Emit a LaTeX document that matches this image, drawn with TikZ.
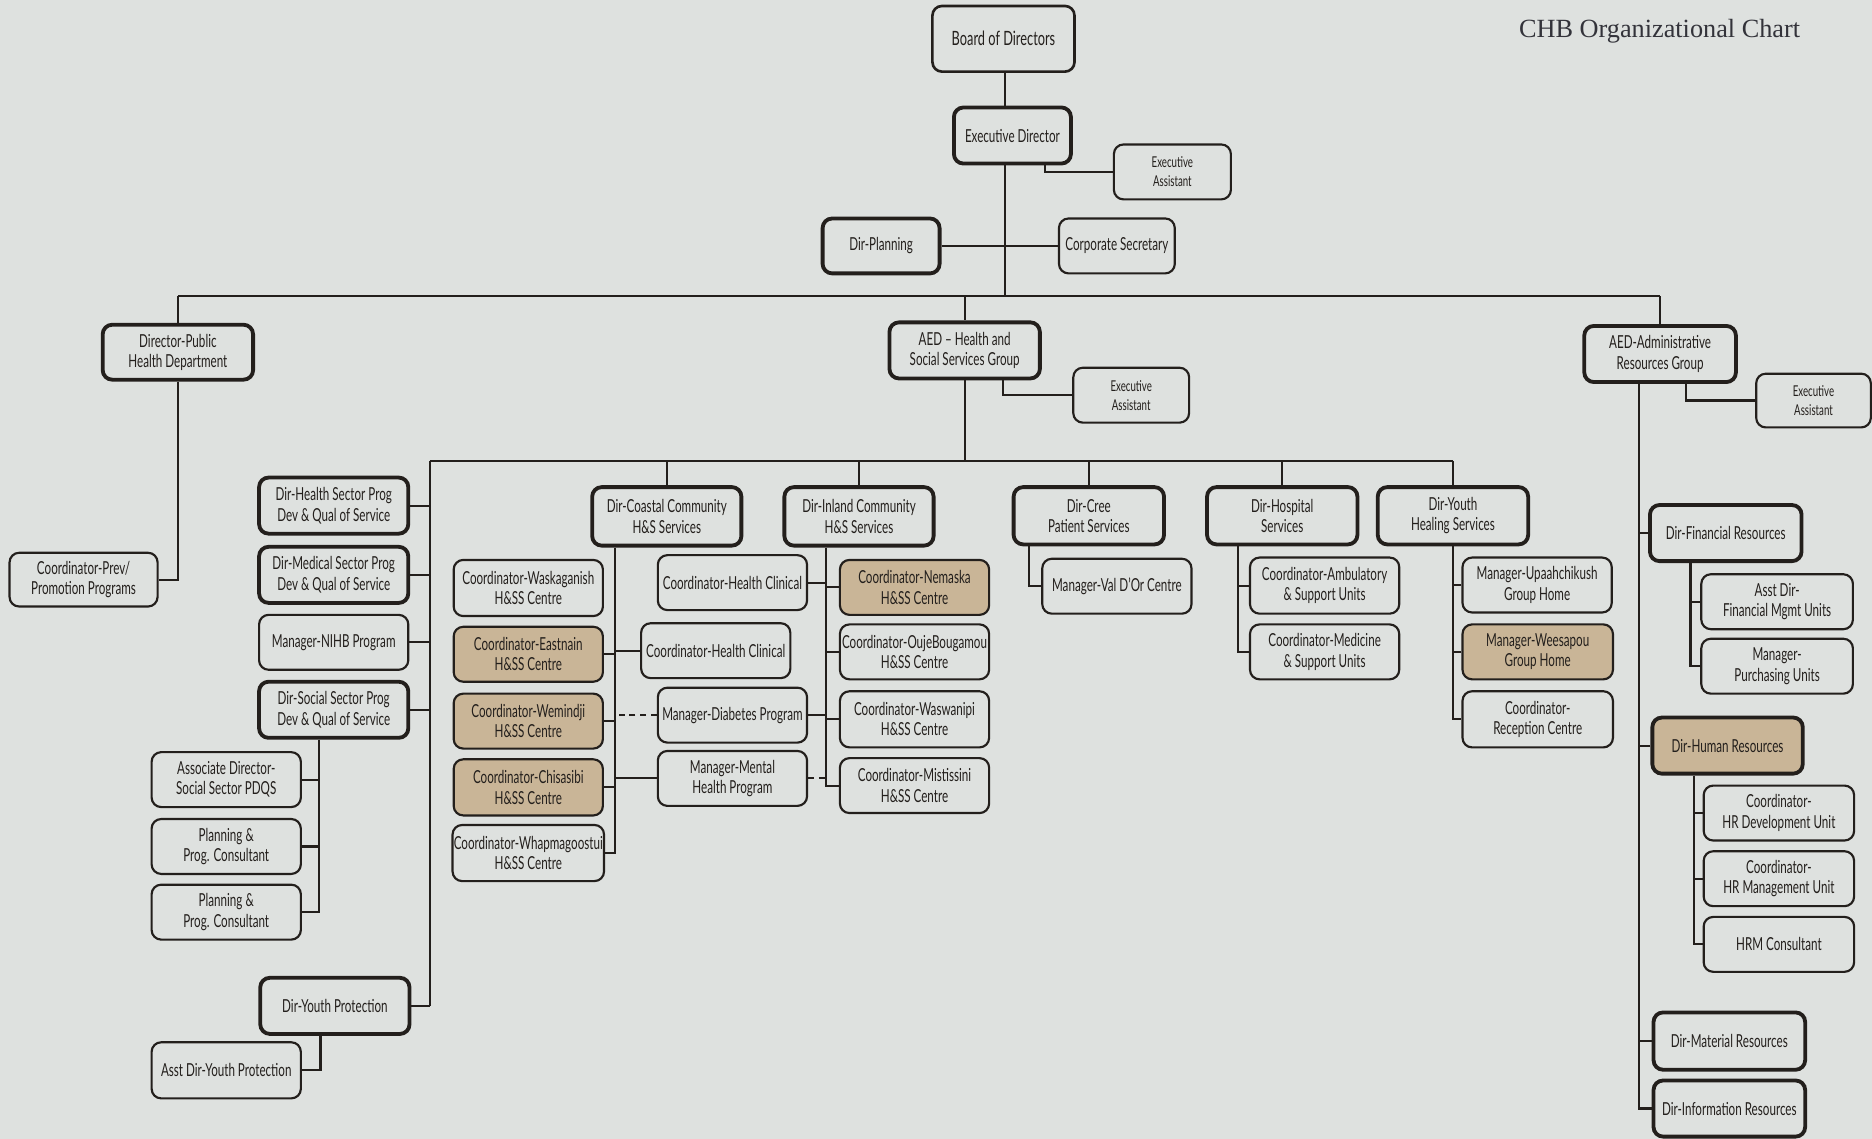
\documentclass[tikz,border=0pt]{standalone}
\usepackage{fontspec}
\setmainfont{Lato}[FakeStretch=0.65]
\newfontfamily\titlefont{Liberation Serif}
\usetikzlibrary{calc}
\pgfdeclarelayer{bg}
\pgfsetlayers{bg,main}
\definecolor{paper}{HTML}{DEE1DF}
\definecolor{tanc}{HTML}{C9B597}
\definecolor{ink}{HTML}{231F1C}
\definecolor{titlec}{HTML}{33333A}
\begin{document}
\begin{tikzpicture}[x=1pt,y=-1pt,
  bx/.style={draw=ink, fill=paper, rounded corners=8pt, line width=1.8pt, minimum width=125pt, minimum height=46pt, align=center, inner sep=1pt, text=ink, font=\fontsize{15}{17}\selectfont},
  dir/.style={bx, line width=3.2pt},
  tanfill/.style={fill=tanc},
  small/.style={font=\fontsize{12.5}{16}\selectfont},
  conn/.style={draw=ink, line width=1.8pt},
  dotline/.style={conn, dash pattern=on 5pt off 4pt}]
\useasboundingbox (0,0) rectangle (1568,954);
% title
\node[anchor=base east, font=\titlefont\fontsize{22}{26}\selectfont, text=titlec, inner sep=0pt] (title) at (1508,31) {CHB Organizational Chart};
% top
\node[bx, minimum width=119pt, minimum height=55pt, line width=2.2pt, font=\fontsize{16.5}{19}\selectfont] (board) at (840.5,32.5) {Board of Directors};
\node[dir, minimum width=98pt, minimum height=47pt] (ed) at (848,113.5) {Executive Director};
\node[bx, small, minimum width=98pt] (ea1) at (982,144) {Executive\\Assistant};
\node[dir, minimum width=98pt] (plan) at (738,206) {Dir-Planning};
\node[bx, minimum width=97pt] (corp) at (935.5,206) {Corporate Secretary};
\node[dir, minimum width=126pt] (dph) at (149,295) {Director-Public\\Health Department};
\node[bx, minimum width=124pt, minimum height=45pt] (prev) at (70,485.5) {Coordinator-Prev/\\Promotion Programs};
\node[dir, minimum width=126pt, minimum height=47pt] (aedh) at (808,293.5) {AED -- Health and\\Social Services Group};
\node[bx, small, minimum width=97pt] (ea2) at (947.5,331) {Executive\\Assistant};
\node[dir, minimum width=127pt, minimum height=47pt] (aeda) at (1390.5,296.5) {AED-Administrative\\Resources Group};
\node[bx, small, minimum width=96pt, minimum height=45pt] (ea3) at (1519,335.5) {Executive\\Assistant};
% left column
\node[dir, minimum height=47pt] (hsp) at (279.5,423.5) {Dir-Health Sector Prog\\Dev \& Qual of Service};
\node[dir, minimum height=47pt] (msp) at (279.5,481.5) {Dir-Medical Sector Prog\\Dev \& Qual of Service};
\node[bx] (nihb) at (279.5,538) {Manager-NIHB Program};
\node[dir, minimum height=47pt] (ssp) at (279.5,594.5) {Dir-Social Sector Prog\\Dev \& Qual of Service};
\node[dir, minimum height=47pt] (ypro) at (280.5,842.5) {Dir-Youth Protection};
\node[bx] (assoc) at (189.5,653) {Associate Director-\\Social Sector PDQS};
\node[bx] (pc1) at (189.5,709) {Planning \&\\Prog. Consultant};
\node[bx] (pc2) at (189.5,764) {Planning \&\\Prog. Consultant};
\node[bx, minimum height=47pt] (asstyp) at (189.5,896.5) {Asst Dir-Youth Protection};
% coastal
\node[dir, minimum height=49pt] (coast) at (558.5,432.5) {Dir-Coastal Community\\H\&S Services};
\node[bx, minimum height=47pt] (wask) at (442.5,492.5) {Coordinator-Waskaganish\\H\&SS Centre};
\node[bx, tanfill] (east) at (442.5,548) {Coordinator-Eastnain\\H\&SS Centre};
\node[bx, tanfill] (wemi) at (442.5,604) {Coordinator-Wemindji\\H\&SS Centre};
\node[bx, tanfill, minimum height=47pt] (chis) at (442.5,659.5) {Coordinator-Chisasibi\\H\&SS Centre};
\node[bx, minimum height=47pt] (whap) at (442.5,714.5) {Coordinator-Whapmagoostui\\H\&SS Centre};
\node[bx] (hc1) at (613.5,488) {Coordinator-Health Clinical};
\node[bx] (hc2) at (599.5,545) {Coordinator-Health Clinical};
\node[bx] (diab) at (613.5,599) {Manager-Diabetes Program};
\node[bx] (ment) at (613.5,652) {Manager-Mental\\Health Program};
% inland
\node[dir, minimum height=49pt] (inl) at (719.5,432.5) {Dir-Inland Community\\H\&S Services};
\node[bx, tanfill] (nema) at (766,492) {Coordinator-Nemaska\\H\&SS Centre};
\node[bx] (ouje) at (766,546) {Coordinator-OujeBougamou\\H\&SS Centre};
\node[bx, minimum height=47pt] (wasw) at (766,602.5) {Coordinator-Waswanipi\\H\&SS Centre};
\node[bx] (mist) at (766,658) {Coordinator-Mistissini\\H\&SS Centre};
% cree, hospital, youth healing
\node[dir, minimum width=126pt, minimum height=48pt] (cree) at (912,432) {Dir-Cree\\Patient Services};
\node[bx] (valdor) at (935.5,491) {Manager-Val D'Or Centre};
\node[dir, minimum width=126pt, minimum height=48pt] (hosp) at (1074,432) {Dir-Hospital\\Services};
\node[bx, minimum height=47pt] (amb) at (1109.5,490.5) {Coordinator-Ambulatory\\\& Support Units};
\node[bx] (med) at (1109.5,546) {Coordinator-Medicine\\\& Support Units};
\node[dir, minimum width=126pt, minimum height=48pt] (yh) at (1217,432) {Dir-Youth\\Healing Services};
\node[bx] (upaa) at (1287.5,490) {Manager-Upaahchikush\\Group Home};
\node[bx, tanfill, minimum width=126pt] (wees) at (1288,546) {Manager-Weesapou\\Group Home};
\node[bx, minimum width=126pt, minimum height=47pt] (recep) at (1288,602.5) {Coordinator-\\Reception Centre};
% admin
\node[dir, minimum width=127pt, minimum height=47pt] (fin) at (1445.5,446.5) {Dir-Financial Resources};
\node[bx, minimum width=127pt] (asstfin) at (1488.5,504) {Asst Dir-\\Financial Mgmt Units};
\node[bx, minimum width=127pt] (purch) at (1488.5,558) {Manager-\\Purchasing Units};
\node[dir, tanfill, minimum width=126pt, minimum height=47pt] (hr) at (1447,624.5) {Dir-Human Resources};
\node[bx, minimum width=126pt] (hrdev) at (1490,681) {Coordinator-\\HR Development Unit};
\node[bx, minimum width=126pt] (hrman) at (1490,736) {Coordinator-\\HR Management Unit};
\node[bx, minimum width=126pt] (hrm) at (1490,791) {HRM Consultant};
\node[dir, minimum width=127pt, minimum height=48pt] (mat) at (1448.5,872) {Dir-Material Resources};
\node[dir, minimum width=127pt, minimum height=47pt] (info) at (1448.5,928.5) {Dir-Information Resources};
% connectors
\begin{pgfonlayer}{bg}
\fill[paper] (0,0) rectangle (1568,954);
\coordinate (t0) at (842,248);
\draw[conn] (board.south -| t0) -- (t0);
\draw[conn] ([xshift=27pt]ed.south) |- (ea1.west);
\draw[conn] (plan.east) -- (corp.west);
\draw[conn] (dph.north |- t0) -- (aeda.north |- t0);
\draw[conn] (dph.north |- t0) -- (dph.north);
\draw[conn] (aedh.north |- t0) -- (aedh.north);
\draw[conn] (aeda.north |- t0) -- (aeda.north);
\draw[conn] (dph.south) |- (prev.east);
\draw[conn] ([xshift=32pt]aedh.south) |- (ea2.west);
\coordinate (b2) at (360,386);
\draw[conn] (aedh.south) -- (aedh.south |- b2);
\draw[conn] (b2) -- (yh.north |- b2);
\foreach \n in {coast,inl,cree,hosp,yh} \draw[conn] (\n.north |- b2) -- (\n.north);
\draw[conn] (b2) -- (b2 |- ypro.east);
\foreach \n in {hsp,msp,nihb,ssp,ypro} \draw[conn] (\n.east) -- (\n.east -| b2);
\coordinate (sx) at ([xshift=-12pt]ssp.south);
\draw[conn] (sx) |- (pc2.east);
\foreach \n in {assoc,pc1} \draw[conn] (\n.east) -- (\n.east -| sx);
\draw[conn] ([xshift=-12pt]ypro.south) |- (asstyp.east);
\coordinate (cx) at ([xshift=-43.5pt]coast.south);
\draw[conn] (cx) |- (whap.east);
\foreach \n in {east,wemi,chis} \draw[conn] (\n.east) -- (\n.east -| cx);
\foreach \n in {hc2,ment} \draw[conn] (\n.west) -- (\n.west -| cx);
\draw[dotline] (diab.west) -- (diab.west -| cx);
\coordinate (ix) at ([xshift=-27.5pt]inl.south);
\draw[conn] (ix) |- (mist.west);
\foreach \n in {nema,ouje,wasw} \draw[conn] (\n.west) -- (\n.west -| ix);
\foreach \n in {hc1,diab} \draw[conn] (\n.east) -- (\n.east -| ix);
\draw[dotline] (ment.east) -- (ment.east -| ix);
\draw[conn] ([xshift=-50pt]cree.south) |- (valdor.west);
\coordinate (hx) at ([xshift=-37pt]hosp.south);
\draw[conn] (hx) |- (med.west);
\draw[conn] (amb.west) -- (amb.west -| hx);
\draw[conn] (yh.south) |- (recep.west);
\foreach \n in {upaa,wees} \draw[conn] (\n.west) -- (\n.west -| yh.south);
\coordinate (ax) at ([xshift=-17.5pt]aeda.south);
\draw[conn] (ax) |- (info.west);
\foreach \n in {fin,hr,mat} \draw[conn] (\n.west) -- (\n.west -| ax);
\draw[conn] ([xshift=22pt]aeda.south) |- (ea3.west);
\coordinate (fx) at ([xshift=-29.5pt]fin.south);
\draw[conn] (fx) |- (purch.west);
\draw[conn] (asstfin.west) -- (asstfin.west -| fx);
\coordinate (hrx) at ([xshift=-28pt]hr.south);
\draw[conn] (hrx) |- (hrm.west);
\foreach \n in {hrdev,hrman} \draw[conn] (\n.west) -- (\n.west -| hrx);
\end{pgfonlayer}
\end{tikzpicture}
\end{document}
